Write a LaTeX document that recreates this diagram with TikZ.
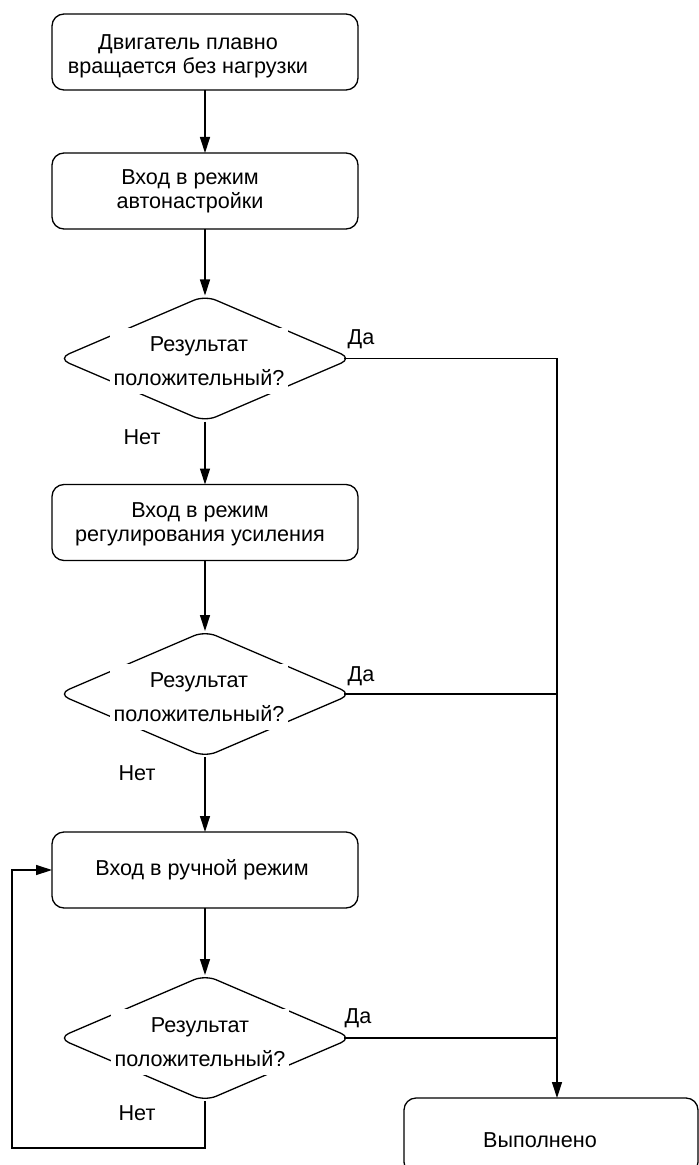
\documentclass[tikz,border=0pt]{standalone}
\usepackage{fontspec}
\setmainfont{Liberation Sans}
\usetikzlibrary{arrows.meta,shapes.geometric}

\begin{document}
\begin{tikzpicture}[x=0.5pt, y=-0.5pt, line width=0.65pt,
      >={Triangle[length=8pt, width=5pt]},
      font=\fontsize{10.8}{12}\selectfont,
      stepbox/.style={draw, rounded corners=6pt, minimum width=153pt, minimum height=38pt, inner sep=0pt, outer sep=0pt},
      decision/.style={draw, diamond, rounded corners=6pt, minimum width=147pt, minimum height=63pt, inner sep=0pt, outer sep=0pt},
      asktext/.style={fill=white, align=center, minimum width=89pt, minimum height=33pt, inner sep=0pt, font=\fontsize{10.8}{17}\selectfont},
      boxtext/.style={align=center, inner sep=0pt}]
   \useasboundingbox (0, 0) rectangle (699, 1165);
   \clip (0, 0) rectangle (699, 1165);

   \begin{scope}[name prefix = box-]
      \node[stepbox] (1) at (205, 52) {};
      \node[stepbox] (2) at (205, 191) {};
      \node[stepbox] (3) at (205, 522.5) {};
      \node[stepbox] (4) at (205, 870) {};
      \node[stepbox, minimum width=147pt] (5) at (551, 1136) {};
   \end{scope}

   \begin{scope}[name prefix = dec-]
      \node[decision] (1) at (205, 358.5) {};
      \node[decision] (2) at (205, 694) {};
      \node[decision] (3) at (205, 1038) {};
   \end{scope}

   \begin{scope}[name prefix = txt-]
      \node[boxtext] (1) at (188, 56) {Двигатель плавно\\вращается без нагрузки};
      \node[boxtext] (2) at (190, 191.5) {Вход в режим\\автонастройки};
      \node[boxtext] (3) at (200, 524.5) {Вход в режим\\регулирования усиления};
      \node[boxtext] (4) at (202, 870) {Вход в ручной режим};
      \node[boxtext] (5) at (540, 1140) {Выполнено};
      \node[asktext] (q1) at (199, 361) {Результат\\положительный?};
      \node[asktext] (q2) at (199, 697) {Результат\\положительный?};
      \node[asktext] (q3) at (200, 1042) {Результат\\положительный?};
   \end{scope}

   \begin{scope}[name prefix = ans-]
      \node[anchor=west, inner sep=0pt] (yes1) at (347, 339) {Да};
      \node[anchor=west, inner sep=0pt] (yes2) at (347, 676) {Да};
      \node[anchor=west, inner sep=0pt] (yes3) at (344, 1018) {Да};
      \node[inner sep=0pt] (no1) at (142, 437) {Нет};
      \node[inner sep=0pt] (no2) at (137, 773) {Нет};
      \node[inner sep=0pt] (no3) at (137, 1113) {Нет};
   \end{scope}

   \coordinate (bus) at (557, 358.5);
   \coordinate (loop) at (12, 1148);

   \begin{scope}
      \draw[->] (box-1) -- (box-2);
      \draw[->] (box-2) -- (dec-1.north);
      \draw[->] (dec-1.south) -- (box-3);
      \draw[->] (box-3) -- (dec-2.north);
      \draw[->] (dec-2.south) -- (box-4);
      \draw[->] (box-4) -- (dec-3.north);
      \draw[->] (dec-3.south) |- (loop) |- (box-4.west);
      \draw ([xshift=-4pt]dec-1.east) -- (bus);
      \draw ([xshift=-4pt]dec-2.east) -- (dec-2.east -| bus);
      \draw ([xshift=-4pt]dec-3.east) -- (dec-3.east -| bus);
      \draw[->] (bus) -- (bus |- box-5.north);
   \end{scope}
\end{tikzpicture}
\end{document}
